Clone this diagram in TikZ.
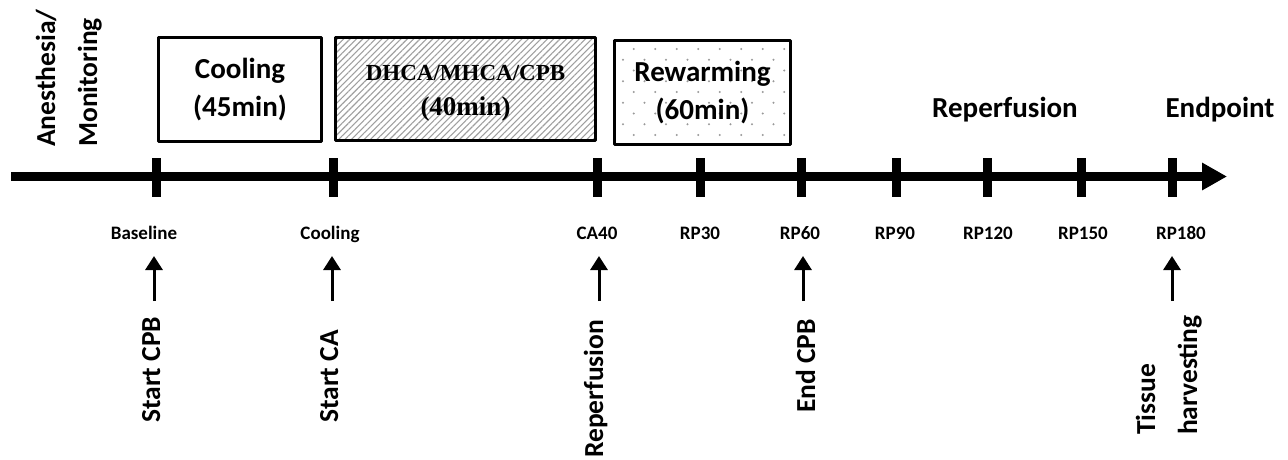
\documentclass[tikz,border=0pt]{standalone}
\usepackage{fontspec}
\setmainfont{Carlito}
\newfontfamily\timesfont{Liberation Serif}
\usetikzlibrary{arrows.meta,patterns.meta}
\tikzset{
  phasebox/.style={draw, line width=3pt, align=center, inner sep=0pt},
  phasefont/.style={font=\fontsize{29}{38}\selectfont\bfseries},
  ticklabel/.style={anchor=base, inner sep=0pt, font=\fontsize{19}{23}\selectfont\bfseries},
  eventlabel/.style={rotate=90, anchor=base west, inner sep=0pt, font=\fontsize{27.5}{42}\selectfont\bfseries},
  uparrow/.style={line width=3pt, -{Triangle[width=17pt,length=14pt]}}
}
\begin{document}
\begin{tikzpicture}[x=1pt, y=-1pt, line join=round]
\useasboundingbox (0,0) rectangle (1288,459);
% phases above the time line
\node[phasebox, phasefont, minimum width=163pt, minimum height=104pt] (cool) at (240,89.5) {Cooling\\(45min)};
\node[phasebox, minimum width=260pt, minimum height=103pt, pattern={Lines[angle=45,distance=4.5pt,line width=1.1pt]}, pattern color=gray!75] (dhca) at (465.5,89) {};
\node[font=\timesfont\bfseries\fontsize{27}{35}\selectfont, align=center] (dhcatext) at (465.5,93) {{\fontsize{23}{35}\selectfont DHCA/MHCA/CPB}\\(40min)};
\foreach \r in {0,...,8}
  \foreach \c in {0,...,7}
    \fill[gray!80] ({623+21.5*\c+10.75*mod(\r+1,2)},{49+10.75*\r}) circle (1.1pt);
\node[phasebox, phasefont, minimum width=176pt, minimum height=104pt] (rewarm) at (702.5,92.5) {Rewarming\\(60min)};
\node[phasefont, anchor=base] (reperf) at (1005,117) {Reperfusion};
\node[phasefont, anchor=base] (endp) at (1220,117) {Endpoint};
\node[eventlabel, align=left] (anest) at (97,147) {Anesthesia/\\Monitoring};
% time line
\coordinate (ax0) at (11,176.5);
\coordinate (ax1) at (1227,176.5);
\draw[line width=9pt, -{Triangle[width=26pt,length=25pt]}] (ax0) -- (ax1);
\foreach \x in {156,333,597,700,801,896,987,1081,1172}
  \draw[line width=9pt] (\x,158) -- (\x,197);
\foreach \x/\lab/\nm in {144/Baseline/bl, 330/Cooling/cl, 597/CA40/ca, 700/RP30/rp30, 800/RP60/rp60, 895/RP90/rp90, 988/RP120/rp120, 1083/RP150/rp150, 1181/RP180/rp180}
  \node[ticklabel] (\nm) at (\x,239) {\lab};
% events below the time line
\foreach \x/\nm in {154/a1, 332/a2, 599/a3, 803/a4, 1172/a5}{
  \coordinate (\nm tail) at (\x,301);
  \coordinate (\nm tip) at (\x,256);
  \draw[uparrow] (\nm tail) -- (\nm tip);
}
\node[eventlabel] (startcpb) at (160,423) {Start CPB};
\node[eventlabel] (startca) at (338,423) {Start CA};
\node[eventlabel] (reperfev) at (603,458) {Reperfusion};
\node[eventlabel] (endcpb) at (815,413) {End CPB};
\node[eventlabel, align=left] (tissue) at (1197,435) {Tissue\\harvesting};
\end{tikzpicture}
\end{document}
